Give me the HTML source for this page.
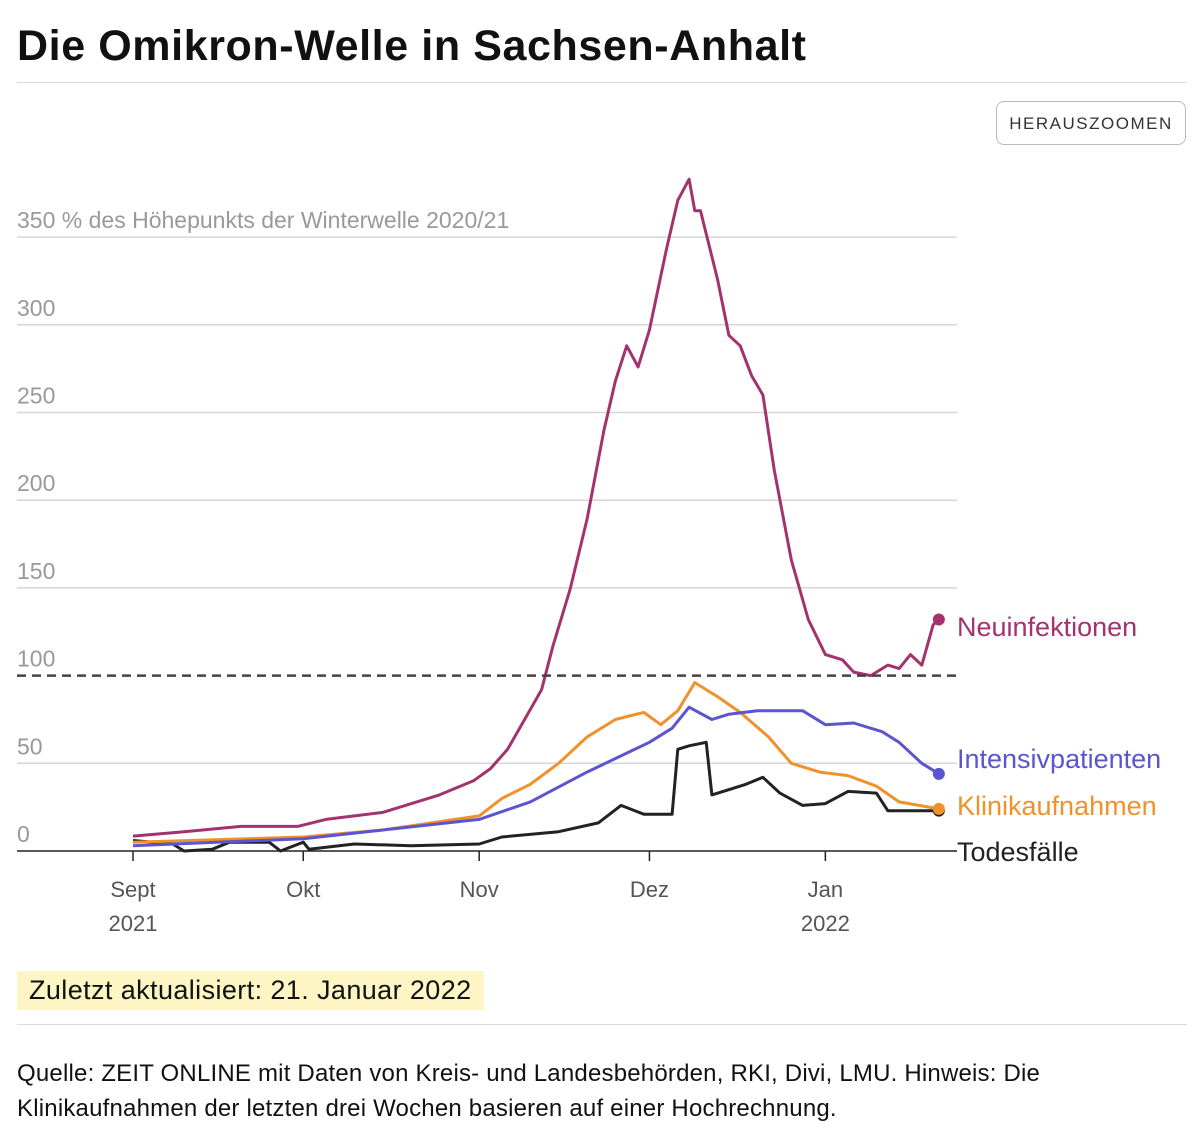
<!DOCTYPE html>
<html><head><meta charset="utf-8"><style>
body{margin:0;background:#fff;font-family:"Liberation Sans",sans-serif;width:1200px;height:1143px;overflow:hidden;position:relative}
h1{position:absolute;left:17px;top:22px;margin:0;font-size:43px;font-weight:bold;color:#111;letter-spacing:0.6px}
.rule{position:absolute;left:17px;width:1170px;height:1px;background:#d8d8d8}
.btn{position:absolute;left:996px;top:101px;width:190px;height:44px;border:1px solid #bbb;border-radius:8px;font-size:17px;letter-spacing:1.5px;color:#333;text-align:center;line-height:44px;box-sizing:border-box}
.upd{position:absolute;left:17px;top:971px;background:#fdf5c4;padding:4px 12px;font-size:27px;letter-spacing:0.4px;color:#111}
.src{position:absolute;left:17px;top:1056px;font-size:24px;line-height:35px;color:#111;letter-spacing:0.2px}
svg{position:absolute;left:0;top:0}
</style></head><body>
<h1>Die Omikron-Welle in Sachsen-Anhalt</h1>
<div class="rule" style="top:82px"></div>
<div class="btn">HERAUSZOOMEN</div>
<svg id="chart" width="1200" height="960"></svg>
<div class="upd">Zuletzt aktualisiert: 21. Januar 2022</div>
<div class="rule" style="top:1024px"></div>
<div class="src">Quelle: ZEIT ONLINE mit Daten von Kreis- und Landesbehörden, RKI, Divi, LMU. Hinweis: Die<br>Klinikaufnahmen der letzten drei Wochen basieren auf einer Hochrechnung.</div>
<script>
const yTicks=[0,50,100,150,200,250,300,350];
const xTickDays=[0,30,61,91,122];
const xTickLabels=["Sept","Okt","Nov","Dez","Jan"];
const xTickYears=["2021","","","","2022"];
const neuDays=[0,9,19,29,34,44,54,60,63,66,69,72,74,77,80,83,85,87,89,91,94,96,98,99,100,103,105,107,109,111,113,116,119,122,125,127,130,133,135,137,139,141,142];
const neuVals=[8.5,11,14,14,18,22,32,40,47,58,75,92,117,149,189,240,268,288,276,297,343,371,383,365,365,326,294,288,271,260,217,166,132,112,109,102,100,106,104,112,106,129,132];
const intDays=[0,30,44,61,70,80,91,95,98,102,105,110,118,122,127,132,135,139,142];
const intVals=[3,7,12,18,28,45,62,70,82,75,78,80,80,72,73,68,62,50,44];
const kliDays=[0,30,44,61,65,70,75,80,85,90,93,96,99,103,107,112,116,121,126,131,135,142];
const kliVals=[5,8,12,20,30,38,50,65,75,79,72,80,96,88,79,65,50,45,43,37,28,24];
const todDays=[0,7,9,14,17,24,26,30,31,39,49,61,65,75,82,86,90,95,96,98,101,102,108,111,114,118,122,126,131,133,142];
const todVals=[6,4,0,1,5,5,0,5,1,4,3,4,8,11,16,26,21,21,58,60,62,32,38,42,33,26,27,34,33,23,23];
const X=d=>133+d*5.675;
const Y=v=>851-v*1.754;
const svg=document.getElementById('chart');
const NS='http://www.w3.org/2000/svg';
function mk(t,a){const e=document.createElementNS(NS,t);for(const k in a)e.setAttribute(k,a[k]);svg.appendChild(e);return e;}
yTicks.forEach((v,i)=>{
 if(v>0&&v!==100){const l=mk('line',{x1:17,x2:957,y1:Y(v),y2:Y(v),stroke:'#d6d6d6','stroke-width':1.5});
 
 }
 const t=mk('text',{x:17,y:Y(v)-9,'font-size':23,fill:'#999','font-family':'Liberation Sans'});
 t.textContent=v===350?'350 % des Höhepunkts der Winterwelle 2020/21':String(v);
 
 
});
const base=mk('line',{x1:17,x2:957,y1:Y(0),y2:Y(0),stroke:'#222','stroke-width':1.5});


xTickDays.forEach((d,i)=>{
 const tk=mk('line',{x1:X(d),x2:X(d),y1:Y(0),y2:Y(0)+10,stroke:'#222','stroke-width':1.5});
 
 
 const t=mk('text',{x:X(d),y:897,'text-anchor':'middle','font-size':22,fill:'#555'});
 t.textContent=xTickLabels[i];
 
 
 if(xTickYears[i]){const t2=mk('text',{x:X(d),y:931,'text-anchor':'middle','font-size':22,fill:'#555'});
 t2.textContent=xTickYears[i];
 
 }
});
function series(days,vals,color,name,label,ly){
 const p=mk('path',{d:days.map((d,i)=>(i?'L':'M')+X(d).toFixed(1)+','+Y(vals[i]).toFixed(1)).join(''),fill:'none',stroke:color,'stroke-width':3,'stroke-linejoin':'round'});
 
 
 const n=days.length-1;
 const c=mk('circle',{cx:X(days[n]),cy:Y(vals[n]),r:6,fill:color});
 
 
 const t=mk('text',{x:957,y:ly,'font-size':27,fill:color});
 t.textContent=label;
 
 
}
series(todDays,todVals,'#222','todesfaelle','Todesfälle',861);
series(kliDays,kliVals,'#f0912c','klinikaufnahmen','Klinikaufnahmen',815);
series(intDays,intVals,'#5b55cf','intensivpatienten','Intensivpatienten',768);
series(neuDays,neuVals,'#a3336f','neuinfektionen','Neuinfektionen',636);
const ref=mk('line',{x1:17,x2:957,y1:Y(100),y2:Y(100),stroke:'#444','stroke-width':2.5,'stroke-dasharray':'9,6'});


</script>
</body></html>
